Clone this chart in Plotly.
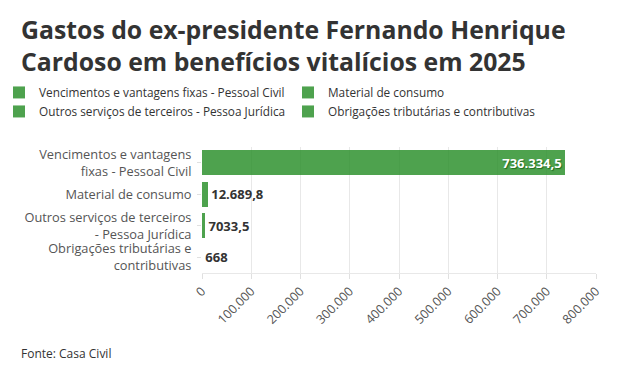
import plotly.graph_objects as go

categories = [
    "Vencimentos e vantagens fixas - Pessoal Civil",
    "Material de consumo",
    "Outros serviços de terceiros - Pessoa Jurídica",
    "Obrigações tributárias e contributivas",
]
tick_labels = [
    "Vencimentos e vantagens<br>fixas - Pessoal Civil",
    "Material de consumo",
    "Outros serviços de terceiros<br>- Pessoa Jurídica",
    "Obrigações tributárias e<br>contributivas",
]
values = [736334.5, 12689.8, 7033.5, 668]
value_labels = ["736.334,5", "12.689,8", "7033,5", "668"]
x_ticks = [0, 100000, 200000, 300000, 400000, 500000, 600000, 700000, 800000]
x_tick_labels = ["0", "100.000", "200.000", "300.000", "400.000", "500.000", "600.000", "700.000", "800.000"]

FONT = "Open Sans"
fig = go.Figure()
for i, (cat, tl, v, lab) in enumerate(zip(categories, tick_labels, values, value_labels)):
    inside = i == 0
    fig.add_trace(go.Bar(
        name=cat,
        y=[tl], x=[v], orientation="h",
        marker=dict(color="rgba(34,139,34,0.8)", line=dict(width=0)),
        text=[lab],
        textposition="inside" if inside else "outside",
        insidetextanchor="end",
        textfont=dict(family=FONT, size=13, color="#ffffff" if inside else "#333333",
                      weight="bold",
                      shadow="1px 1px 1px #1f6b1f" if inside else "none"),
        cliponaxis=False,
        hoverinfo="x+y",
    ))

fig.update_layout(
    width=635, height=376,
    barmode="stack", bargap=0.2,
    paper_bgcolor="white", plot_bgcolor="white",
    margin=dict(l=194, r=47, t=139, b=111, autoexpand=False),
    font=dict(family=FONT, size=13, color="#333333"),
    showlegend=True,
    legend=dict(orientation="h", x=-0.5152, xanchor="left", y=1.548, yanchor="top",
                font=dict(size=11.8, color="#333333"), itemwidth=30,
                entrywidth=244, entrywidthmode="pixels",
                tracegroupgap=0, traceorder="normal", itemclick=False),
    annotations=[
        dict(text="<b>Gastos do ex-presidente Fernando Henrique<br>Cardoso em benefícios vitalícios em 2025</b>",
             xref="paper", yref="paper", x=-0.4645, y=2.085, xanchor="left", yanchor="top",
             align="left", showarrow=False,
             font=dict(family=FONT, size=24.8, color="#333333")),
        dict(text="Fonte: Casa Civil", xref="paper", yref="paper", x=-0.4645, y=-0.635,
             xanchor="left", yanchor="middle", showarrow=False, align="left",
             font=dict(family=FONT, size=12, color="#333333")),
    ],
)
fig.update_xaxes(
    range=[0, 800000], tickvals=x_ticks, ticktext=x_tick_labels, tickangle=-45,
    showgrid=True, gridcolor="#e8e8e8", zeroline=False, automargin=False,
    showline=True, linecolor="#e8e8e8", ticks="outside", tickcolor="#e0e0e0", ticklen=5,
    tickfont=dict(size=12.5, color="#555555"),
)
fig.update_yaxes(
    autorange="reversed", showgrid=False, ticks="outside", tickcolor="#e0e0e0", ticklen=4,
    tickfont=dict(size=12.8, color="#555555"), showline=False, automargin=False,
    ticklabelstandoff=3,
)

fig.write_html("out.html")
